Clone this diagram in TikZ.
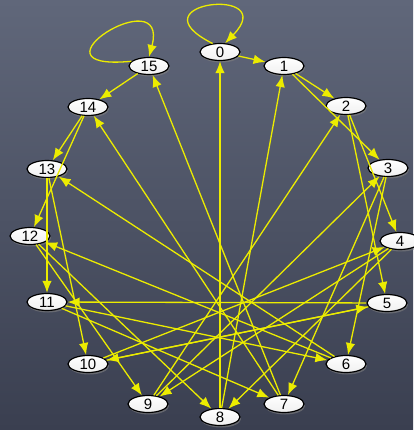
\documentclass[tikz,border=0pt]{standalone}
\usepackage{fontspec}
\setmainfont{Liberation Sans}
\usetikzlibrary{arrows.meta,shadows,shapes.geometric}
\definecolor{slatetop}{RGB}{96,103,122}
\definecolor{slatebot}{RGB}{58,63,80}
\definecolor{chalkyellow}{RGB}{236,236,0}
\tikzset{
  vertex/.style={ellipse, draw=black, line width=1.2pt, top color=white, bottom color=white!88!gray,
    minimum width=40pt, minimum height=17pt, inner sep=0pt, font=\fontsize{15}{15}\selectfont,
    drop shadow={opacity=0.6, shadow xshift=1pt, shadow yshift=-2pt}},
  edge/.style={chalkyellow, line width=1.3pt, -{Latex[length=12pt,width=9.5pt]}}
}
\begin{document}
\begin{tikzpicture}[x=1pt, y=-1pt]
% background slate
\shade[top color=slatetop, bottom color=slatebot] (0,0) rectangle (413,430);
\useasboundingbox (0,0) rectangle (413,430);
% 16 vertices round the circle
\foreach \i/\x/\y in {0/220/52, 1/284/66, 2/346/106, 3/388/168, 4/400/241, 5/387/303,
  6/346/364, 7/284/404, 8/220/417, 9/148/404, 10/88/364, 11/47/302, 12/30/236,
  13/47/169, 14/88/107, 15/149/66} {
  \node[vertex] (n\i) at (\x,\y) {\i};
}
% edges i -> 2i mod 16 and 2i+1 mod 16
\foreach \i in {1,...,14} {
  \pgfmathtruncatemacro{\ja}{mod(2*\i,16)}
  \pgfmathtruncatemacro{\jb}{mod(2*\i+1,16)}
  \draw[edge] (n\i) -- (n\ja);
  \draw[edge] (n\i) -- (n\jb);
}
\draw[edge] (n0) -- (n1);
\draw[edge] (n15) -- (n14);
% self loops
\draw[edge] (n0.131) .. controls (130,2) and (282,-15) .. (n0.60);
\draw[edge] (n15.165) .. controls (20,72) and (170,-22) .. (n15.north);
\end{tikzpicture}
\end{document}
